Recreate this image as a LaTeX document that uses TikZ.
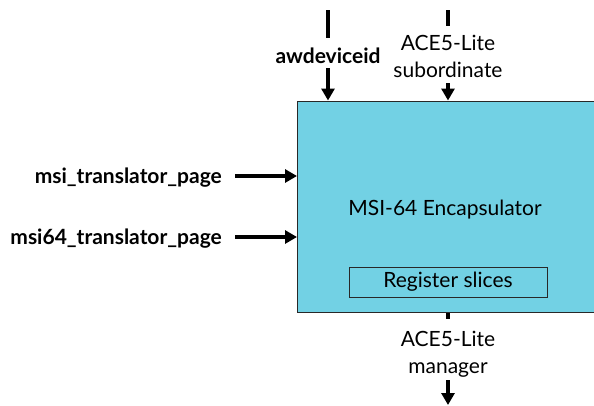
\documentclass[tikz,border=0pt]{standalone}
\usepackage{fontspec}
\setmainfont{Lato}
\usetikzlibrary{arrows.meta,positioning}
\definecolor{encblue}{RGB}{114,209,228}
\definecolor{edge}{RGB}{40,40,40}
\tikzset{
  wire/.style={line width=3.5pt},
  sig/.style={wire,-{Triangle[length=12pt,width=13pt]}},
  lbl/.style={font=\fontsize{21}{27}\selectfont, align=center, inner sep=0pt},
  boldlbl/.style={lbl, font=\fontsize{21}{27}\selectfont\bfseries},
  encbox/.style={draw=edge, fill=encblue, line width=1pt},
}

\begin{document}
\begin{tikzpicture}[x=1pt,y=-1pt]
\useasboundingbox (0,0) rectangle (594,405);
% encapsulator block
\node[encbox, anchor=north west, minimum width=320pt, minimum height=211pt] (enc) at (297,100.5) {};
\node[lbl, anchor=base] (title) at (445,215) {MSI-64 Encapsulator};
\node[lbl, encbox, minimum width=198pt, minimum height=30pt] (regs) at (448,282) {Register slices};

% left inputs
\coordinate (msiin) at (235,176);
\coordinate (msi64in) at (235,237);
\node[boldlbl, anchor=base east] (msi) at ([xshift=-13pt,yshift=-7pt]msiin) {msi\_translator\_page};
\node[boldlbl, anchor=base east] (msi64) at ([xshift=-13pt,yshift=-7pt]msi64in) {msi64\_translator\_page};
\draw[sig] (msiin) -- (msiin -| enc.west);
\draw[sig] (msi64in) -- (msi64in -| enc.west);

% top inputs
\coordinate (awtop) at (328,10);
\node[boldlbl, anchor=base] (aw) at (328,63) {awdeviceid};
\draw[wire, shorten >=9pt] (awtop) -- (aw.north);
\draw[sig, shorten <=5pt] (aw.south) -- (aw.south |- enc.north);

\coordinate (subtop) at (448,10);
\node[lbl, anchor=base] (sub) at (448,77) {ACE5-Lite\\subordinate};
\draw[wire, shorten >=8pt] (subtop) -- (sub.north);
\draw[sig, shorten <=6pt] (sub.south) -- (sub.south |- enc.north);

% bottom output
\node[lbl, anchor=base] (mgr) at (448,373) {ACE5-Lite\\manager};
\draw[wire, shorten >=11pt] (mgr.north |- enc.south) -- (mgr.north);
\draw[sig, shorten <=3pt] (mgr.south) -- (mgr.south |- 0,405);
\end{tikzpicture}
\end{document}
